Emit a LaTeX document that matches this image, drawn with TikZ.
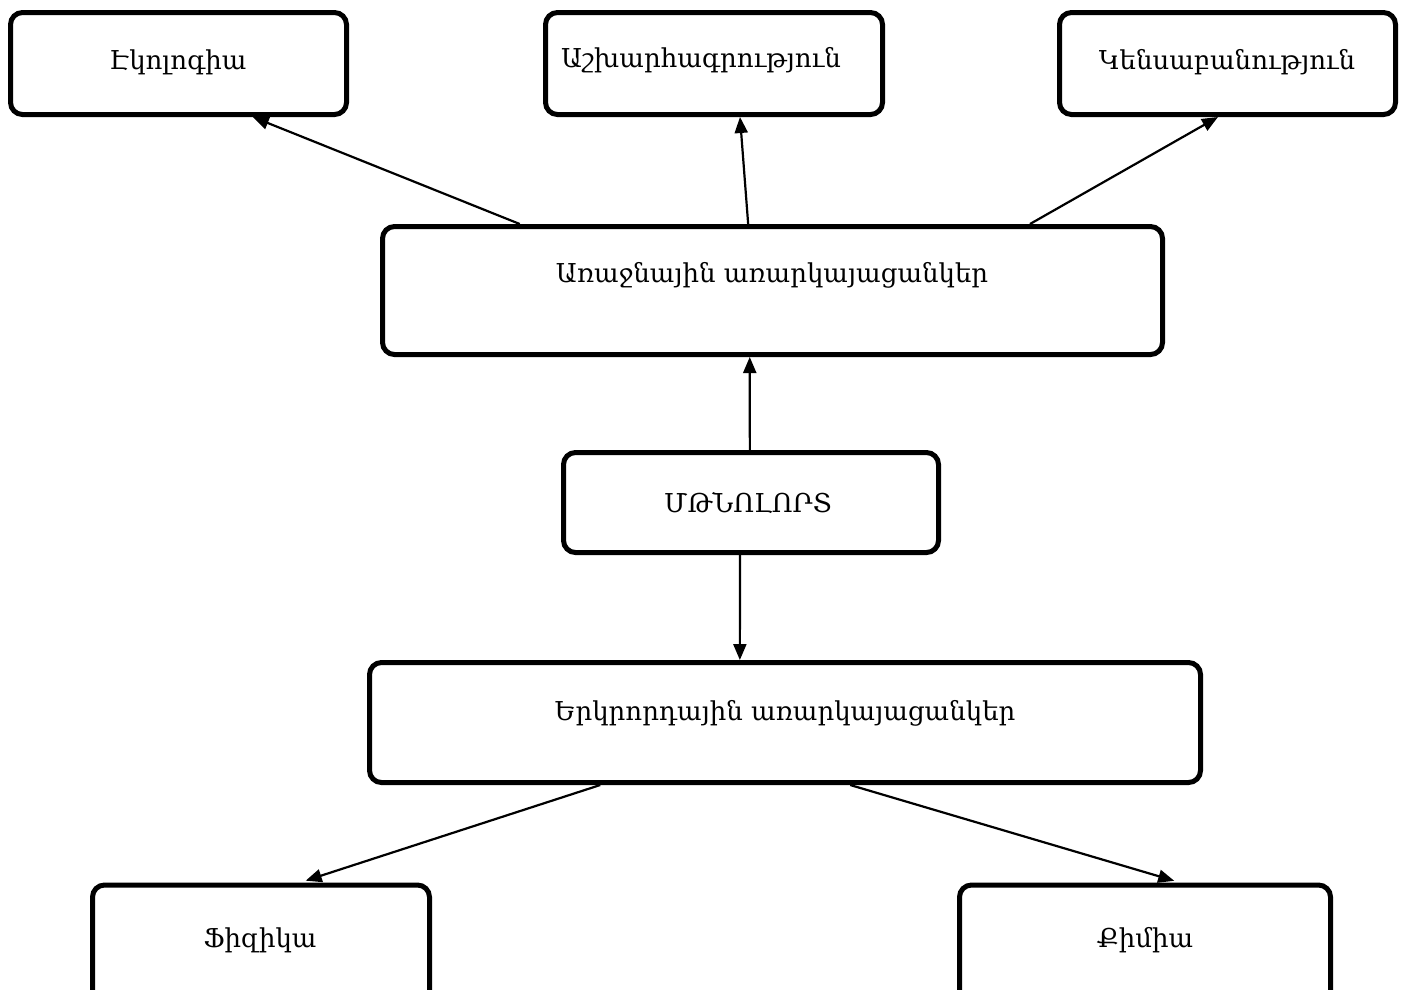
\documentclass[tikz,border=0pt]{standalone}
\usepackage{fontspec}
\setmainfont{DejaVu Serif}
\usetikzlibrary{arrows.meta,calc}
\tikzset{
  box/.style={draw=black, line width=5pt, rounded corners=12pt, fill=white, inner sep=0pt},
  lbl/.style={inner sep=0pt, font=\fontsize{26}{30}\selectfont},
  conn/.style={line width=2.2pt, -{Triangle[length=16pt,width=13pt]}},
}
\begin{document}
\begin{tikzpicture}[x=1pt,y=-1pt]
\useasboundingbox (0,0) rectangle (1408,989);
\clip (0,0) rectangle (1408,989);
% boxes
\node[box, minimum width=336pt, minimum height=102pt] (b1) at (178.5,63.5) {};
\node[box, minimum width=337pt, minimum height=102pt] (b2) at (714,63.5) {};
\node[box, minimum width=336pt, minimum height=102pt] (b3) at (1227.5,63.5) {};
\node[box, minimum width=780pt, minimum height=128pt] (a) at (772.5,290.5) {};
\node[box, minimum width=375pt, minimum height=100pt] (m) at (751,502.5) {};
\node[box, minimum width=831pt, minimum height=120pt] (e) at (785,722.5) {};
\node[box, minimum width=337pt, minimum height=120pt] (f) at (261,945) {};
\node[box, minimum width=371pt, minimum height=120pt] (q) at (1145,945) {};
% labels
\node[lbl] (t1) at (178,62) {Էկոլոգիա};
\node[lbl] (t2) at (701,60) {Աշխարհագրություն};
\node[lbl] (t3) at (1227,62) {Կենսաբանություն};
\node[lbl] (ta) at (772,275) {Առաջնային առարկայացանկեր};
\node[lbl] (tm) at (748,503) {ՄԹՆՈԼՈՐՏ};
\node[lbl] (te) at (785,713) {Երկրորդային առարկայացանկեր};
\node[lbl] (tf) at (260,940) {Ֆիզիկա};
\node[lbl] (tq) at (1145,940) {Քիմիա};
% connectors
\draw[conn] ($(a.north west)!0.178!(a.north east)$) -- ($(b1.south west)!0.718!(b1.south east)$);
\draw[conn] ($(a.north west)!0.469!(a.north east)$) -- ($(b2.south west)!0.576!(b2.south east)$);
\draw[conn] ($(a.north west)!0.828!(a.north east)$) -- ($(b3.south west)!0.472!(b3.south east)$);
\draw[conn] ($(m.north west)!0.497!(m.north east)$) -- ($(a.south west)!0.471!(a.south east)$);
\draw[conn] ($(m.south west)!0.471!(m.south east)$) -- ($(e.north west)!0.446!(e.north east)$);
\draw[conn, shorten >=6pt] ($(e.south west)!0.279!(e.south east)$) -- ($(f.north west)!0.614!(f.north east)$);
\draw[conn, shorten >=6pt] ($(e.south west)!0.578!(e.south east)$) -- ($(q.north west)!0.593!(q.north east)$);
\end{tikzpicture}
\end{document}
